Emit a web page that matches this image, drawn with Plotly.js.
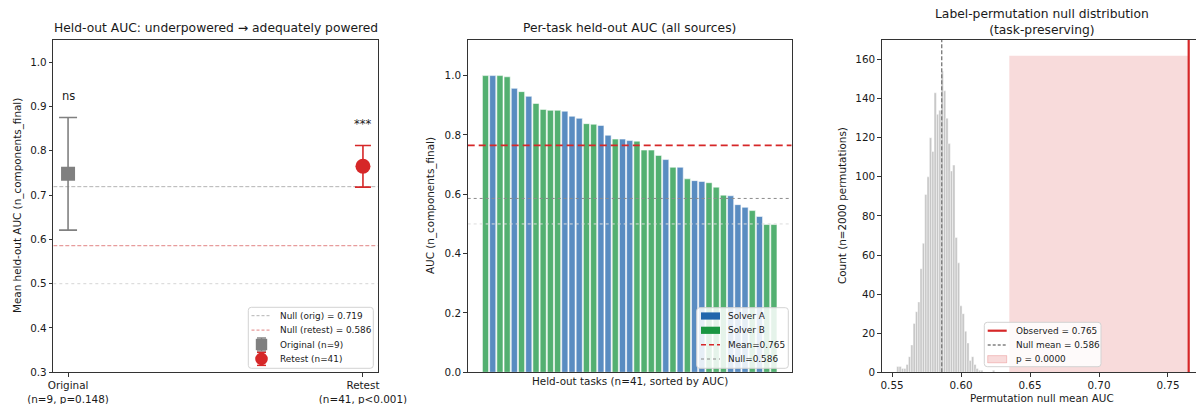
<!DOCTYPE html>
<html>
<head>
<meta charset="utf-8">
<script src="https://cdn.plot.ly/plotly-3.0.1.min.js"></script>
<style>
  html, body { margin: 0; padding: 0; background: #fff; }
  #chart { width: 1196px; height: 404px; }
</style>
</head>
<body>
<div id="chart"></div>
<script>
// ---------------- DATA ----------------
// Panel 1: mean held-out AUC
const groupLabels = ["Original<br>(n=9, p=0.148)", "Retest<br>(n=41, p<0.001)"];
const groupNames = ["Original (n=9)", "Retest (n=41)"];
const groupMeans = [0.748, 0.765];
const groupErrors = [0.127, 0.047];
const groupSig = ["ns", "***"];
const nullOrig = 0.719;
const nullRetest = 0.586;
const chanceLevel = 0.5;

// Panel 2: per-task held-out AUC (sorted)
const taskAUC = [1.000, 1.000, 1.000, 0.996, 0.957, 0.946, 0.930, 0.906, 0.886, 0.883,
                 0.883, 0.880, 0.863, 0.856, 0.838, 0.836, 0.832, 0.799, 0.786, 0.786,
                 0.781, 0.779, 0.749, 0.749, 0.731, 0.717, 0.691, 0.691, 0.652, 0.646,
                 0.643, 0.639, 0.624, 0.597, 0.595, 0.565, 0.556, 0.545, 0.525, 0.498, 0.498];
const taskSolver = ["B","A","B","B","A","B","A","B","B","B",
                    "B","A","A","A","B","B","A","A","B","A",
                    "A","B","B","B","B","A","B","A","B","A",
                    "A","B","B","B","A","A","A","B","A","B","B"];
const solverNames = ["Solver A", "Solver B"];
const meanAUC = 0.765;
const nullAUC = 0.586;

// Panel 3: permutation null histogram
const binCenters = [0.5542, 0.5559, 0.5576, 0.5593, 0.5610, 0.5627, 0.5644, 0.5661, 0.5678, 0.5695,
                    0.5711, 0.5728, 0.5745, 0.5762, 0.5779, 0.5796, 0.5813, 0.5830, 0.5847, 0.5864,
                    0.5881, 0.5898, 0.5914, 0.5931, 0.5948, 0.5965, 0.5982, 0.5999, 0.6016, 0.6033,
                    0.6050, 0.6067, 0.6084, 0.6101, 0.6117, 0.6134, 0.6151, 0.6236];
const binCounts = [3, 3, 2, 2, 4, 8, 14, 25, 31, 36,
                   53, 66, 91, 100, 120, 113, 143, 132, 134, 154,
                   144, 130, 117, 103, 106, 69, 56, 34, 30, 21,
                   15, 6, 8, 4, 2, 1, 1, 1];
const binWidth = 0.00169;
const observedAUC = 0.765;
const permNullMean = 0.586;
const pValueText = "p = 0.0000";
const shadeStart = 0.635;
const shadeTop = 162;

// ---------------- STYLE ----------------
const W = 1196, H = 404;
const px = v => v / W;
const py = v => 1 - v / H;
const FONT = "DejaVu Sans, Verdana, sans-serif";
const TXT = "#1a1a1a";
const C = {
  grey: "#808080", red: "#d62728", nullOrig: "#b3b3b3", nullRetest: "#e79c9c",
  chance: "#d6d6d6", blue: "#2166ac", green: "#1a9641",
  blueBar: "rgba(33,102,172,0.75)", greenBar: "rgba(26,150,65,0.75)",
  hist: "#c6c6c6", shade: "rgba(214,39,40,0.17)", nullGrey: "#8c8c8c"
};

const r1x = [-0.05, 1.05], r1y = [0.3, 1.05];
const r2x = [-2.47, 42.47], r2y = [0, 1.12];
const r3x = [0.5425, 0.7703], r3y = [0, 170];
const yDom = [py(372.3), py(40)];

function axisBase(extra) {
  return Object.assign({
    showline: true, linecolor: "#333", linewidth: 1, mirror: true,
    ticks: "outside", ticklen: 3.5, tickwidth: 1, tickcolor: "#333",
    tickfont: {family: FONT, size: 10.4, color: TXT},
    showgrid: false, zeroline: false, fixedrange: true
  }, extra);
}

const traces = [];

// ---- Panel 1 ----
traces.push({x: r1x, y: [chanceLevel, chanceLevel], xaxis: "x", yaxis: "y", mode: "lines",
  line: {color: C.chance, width: 1, dash: "dot"}, hoverinfo: "skip"});
traces.push({x: r1x, y: [nullOrig, nullOrig], xaxis: "x", yaxis: "y", mode: "lines",
  line: {color: C.nullOrig, width: 1, dash: "4px,2px"}, name: "Null (orig)"});
traces.push({x: r1x, y: [nullRetest, nullRetest], xaxis: "x", yaxis: "y", mode: "lines",
  line: {color: C.nullRetest, width: 1.2, dash: "4px,2px"}, name: "Null (retest)"});
traces.push({x: [0], y: [groupMeans[0]], xaxis: "x", yaxis: "y", mode: "markers",
  marker: {symbol: "square", size: 14, color: C.grey},
  error_y: {type: "data", array: [groupErrors[0]], color: C.grey, thickness: 1.6, width: 9},
  name: groupNames[0]});
traces.push({x: [1], y: [groupMeans[1]], xaxis: "x", yaxis: "y", mode: "markers",
  marker: {symbol: "circle", size: 15, color: C.red},
  error_y: {type: "data", array: [groupErrors[1]], color: C.red, thickness: 1.6, width: 8},
  name: groupNames[1]});

// ---- Panel 2 ----
[["A", C.blueBar, solverNames[0]], ["B", C.greenBar, solverNames[1]]].forEach(([key, col, nm]) => {
  const xs = [], ys = [];
  taskAUC.forEach((v, i) => { if (taskSolver[i] === key) { xs.push(i); ys.push(v); } });
  traces.push({type: "bar", x: xs, y: ys, width: 0.85, xaxis: "x2", yaxis: "y2",
    marker: {color: col, line: {color: "rgba(255,255,255,0.9)", width: 0.6}},
    name: nm, hoverinfo: "skip"});
});
traces.push({x: r2x, y: [chanceLevel, chanceLevel], xaxis: "x2", yaxis: "y2", mode: "lines",
  line: {color: "#dcdcdc", width: 1, dash: "dot"}, hoverinfo: "skip"});
traces.push({x: r2x, y: [meanAUC, meanAUC], xaxis: "x2", yaxis: "y2", mode: "lines",
  line: {color: C.red, width: 1.6, dash: "7px,4px"}, name: "Mean"});
traces.push({x: r2x, y: [nullAUC, nullAUC], xaxis: "x2", yaxis: "y2", mode: "lines",
  line: {color: C.nullGrey, width: 1, dash: "dot"}, name: "Null"});

// ---- Panel 3 ----
traces.push({x: [shadeStart, observedAUC, observedAUC, shadeStart, shadeStart],
  y: [0, 0, shadeTop, shadeTop, 0], xaxis: "x3", yaxis: "y3", mode: "lines", fill: "toself",
  fillcolor: C.shade, line: {width: 0, color: C.shade}, name: pValueText, hoverinfo: "skip"});
traces.push({type: "bar", x: binCenters, y: binCounts, width: binWidth, xaxis: "x3", yaxis: "y3",
  marker: {color: C.hist, line: {color: "rgba(255,255,255,0.9)", width: 0.5}}, hoverinfo: "skip"});
traces.push({x: [permNullMean, permNullMean], y: r3y, xaxis: "x3", yaxis: "y3", mode: "lines",
  line: {color: C.grey, width: 1.4, dash: "4px,2px"}, name: "Null mean"});
traces.push({x: [observedAUC, observedAUC], y: r3y, xaxis: "x3", yaxis: "y3", mode: "lines",
  line: {color: C.red, width: 2.2}, name: "Observed"});

// ---------------- ANNOTATIONS ----------------
const ann = [];
const shapes = [];
function label(text, x, y, size, opts) {
  ann.push(Object.assign({text: text, x: x, y: y, xref: "paper", yref: "paper", showarrow: false,
    xanchor: "center", yanchor: "middle", font: {family: FONT, size: size, color: TXT}}, opts || {}));
}
label("Held-out AUC: underpowered → adequately powered", px(215.5), py(28), 12.3);
label("Per-task held-out AUC (all sources)", px(629.7), py(28), 12.3);
label("Label-permutation null distribution<br>(task-preserving)", px(1042), py(22), 12.3);
label("Mean held-out AUC (n_components_final)", px(17), py(206), 10.4, {textangle: -90});
label("AUC (n_components_final)", px(430), py(206), 10.4, {textangle: -90});
label("Count (n=2000 permutations)", px(842), py(206), 10.4, {textangle: -90});
label("Held-out tasks (n=41, sorted by AUC)", px(629.7), py(381), 10.4);
label("Permutation null mean AUC", px(1042), py(397.5), 10.4);
groupSig.forEach((s, i) => {
  ann.push({text: s, x: i, y: groupMeans[i] + groupErrors[i] + 0.028, xref: "x", yref: "y",
    showarrow: false, xanchor: "center", yanchor: "bottom",
    font: {family: FONT, size: 11.5, color: TXT}});
});

// ---------------- HAND-DRAWN LEGENDS (matplotlib style) ----------------
function P(x, y) { return [px(x), py(y)]; }
function roundRect(x0, y0, x1, y1, r) {
  const a = P(x0, y0), b = P(x1, y1);
  const rx = r / W, ry = r / H;
  const L = a[0], R = b[0], T = a[1], B = b[1];
  return `M${L + rx},${T} L${R - rx},${T} Q${R},${T} ${R},${T - ry} L${R},${B + ry} Q${R},${B} ${R - rx},${B} ` +
         `L${L + rx},${B} Q${L},${B} ${L},${B + ry} L${L},${T - ry} Q${L},${T} ${L + rx},${T} Z`;
}
function legendFrame(x0, y0, x1, y1) {
  shapes.push({type: "path", xref: "paper", yref: "paper", path: roundRect(x0, y0, x1, y1, 3),
    fillcolor: "rgba(255,255,255,0.85)", line: {color: "#d3d3d3", width: 1}, layer: "above"});
}
function lineSample(x0, x1, y, color, width, dash) {
  shapes.push({type: "line", xref: "paper", yref: "paper", x0: px(x0), x1: px(x1), y0: py(y), y1: py(y),
    line: {color: color, width: width, dash: dash || "solid"}, layer: "above"});
}
function rectSample(x0, y0, x1, y1, fill, edge) {
  shapes.push({type: "rect", xref: "paper", yref: "paper", x0: px(x0), x1: px(x1), y0: py(y1), y1: py(y0),
    fillcolor: fill, line: {color: edge || fill, width: edge ? 1 : 0}, layer: "above"});
}
function circleSample(cx, cy, r, fill) {
  shapes.push({type: "circle", xref: "paper", yref: "paper", x0: px(cx - r), x1: px(cx + r),
    y0: py(cy + r), y1: py(cy - r), fillcolor: fill, line: {width: 0, color: fill}, layer: "above"});
}
function capSample(cx, cy, half, capHalf, color) {
  lineSample(cx - capHalf, cx + capHalf, cy - half, color, 1.4);
  lineSample(cx - capHalf, cx + capHalf, cy + half, color, 1.4);
  shapes.push({type: "line", xref: "paper", yref: "paper", x0: px(cx), x1: px(cx), y0: py(cy - half), y1: py(cy + half),
    line: {color: color, width: 1.4}, layer: "above"});
}
function legendText(text, x, y) {
  ann.push({text: text, x: px(x), y: py(y), xref: "paper", yref: "paper", showarrow: false,
    xanchor: "left", yanchor: "middle", font: {family: FONT, size: 8.9, color: TXT}});
}

// Legend 1 (left panel)
legendFrame(248.3, 307.3, 373.3, 368.3);
const L1 = [315.7, 330.1, 344.5, 358.9];
lineSample(251.5, 271.5, L1[0], C.nullOrig, 1, "3px,2px");
legendText("Null (orig) = " + nullOrig.toFixed(3), 278.3, L1[0]);
lineSample(251.5, 271.5, L1[1], C.nullRetest, 1.2, "3px,2px");
legendText("Null (retest) = " + nullRetest.toFixed(3), 278.3, L1[1]);
capSample(261.5, L1[2], 6.5, 4.5, C.grey);
rectSample(255.8, L1[2] - 5.7, 267.2, L1[2] + 5.7, C.grey);
legendText(groupNames[0], 278.3, L1[2]);
capSample(261.5, L1[3], 6.5, 4.5, C.red);
circleSample(261.5, L1[3], 6.3, C.red);
legendText(groupNames[1], 278.3, L1[3]);

// Legend 2 (middle panel)
legendFrame(696.7, 307.7, 788.3, 368.3);
const L2 = [316.0, 330.3, 344.7, 359.0];
rectSample(701, L2[0] - 3.6, 720, L2[0] + 3.6, C.blue);
legendText(solverNames[0], 726, L2[0]);
rectSample(701, L2[1] - 3.6, 720, L2[1] + 3.6, C.green);
legendText(solverNames[1], 726, L2[1]);
lineSample(701, 720, L2[2], C.red, 1.6, "5px,3px");
legendText("Mean=" + meanAUC.toFixed(3), 726, L2[2]);
lineSample(701, 720, L2[3], C.nullGrey, 1, "dot");
legendText("Null=" + nullAUC.toFixed(3), 726, L2[3]);

// Legend 3 (right panel)
legendFrame(984.3, 322.3, 1101, 366.7);
const L3 = [330.7, 345.0, 359.2];
lineSample(987.7, 1006.7, L3[0], C.red, 2.2);
legendText("Observed = " + observedAUC.toFixed(3), 1014.3, L3[0]);
lineSample(987.7, 1006.7, L3[1], C.grey, 1.3, "3px,2px");
legendText("Null mean = " + permNullMean.toFixed(3), 1014.3, L3[1]);
rectSample(987.7, L3[2] - 3.6, 1006.7, L3[2] + 3.6, C.shade, "rgba(214,39,40,0.22)");
legendText(pValueText, 1014.3, L3[2]);

const layout = {
  width: W, height: H,
  margin: {l: 0, r: 0, t: 0, b: 0},
  paper_bgcolor: "#fff", plot_bgcolor: "#fff",
  font: {family: FONT, color: TXT},
  barmode: "overlay",
  showlegend: false,
  xaxis: axisBase({domain: [px(53.3), px(377.7)], range: r1x, tickvals: [0, 1], ticktext: groupLabels, anchor: "y"}),
  yaxis: axisBase({domain: yDom, range: r1y, dtick: 0.1, tick0: 0, tickformat: ".1f", anchor: "x"}),
  xaxis2: axisBase({domain: [px(467.7), px(791.7)], range: r2x, ticks: "", showticklabels: false, anchor: "y2"}),
  yaxis2: axisBase({domain: yDom, range: r2y, dtick: 0.2, tick0: 0, tickformat: ".1f", anchor: "x2"}),
  xaxis3: axisBase({domain: [px(881.7), 1], range: r3x, tickvals: [0.55, 0.60, 0.65, 0.70, 0.75], tickformat: ".2f", anchor: "y3"}),
  yaxis3: axisBase({domain: yDom, range: r3y, dtick: 20, tick0: 0, mirror: false, anchor: "x3"}),
  shapes: shapes,
  annotations: ann
};

Plotly.newPlot("chart", traces, layout, {staticPlot: true, displayModeBar: false});
</script>
</body>
</html>
